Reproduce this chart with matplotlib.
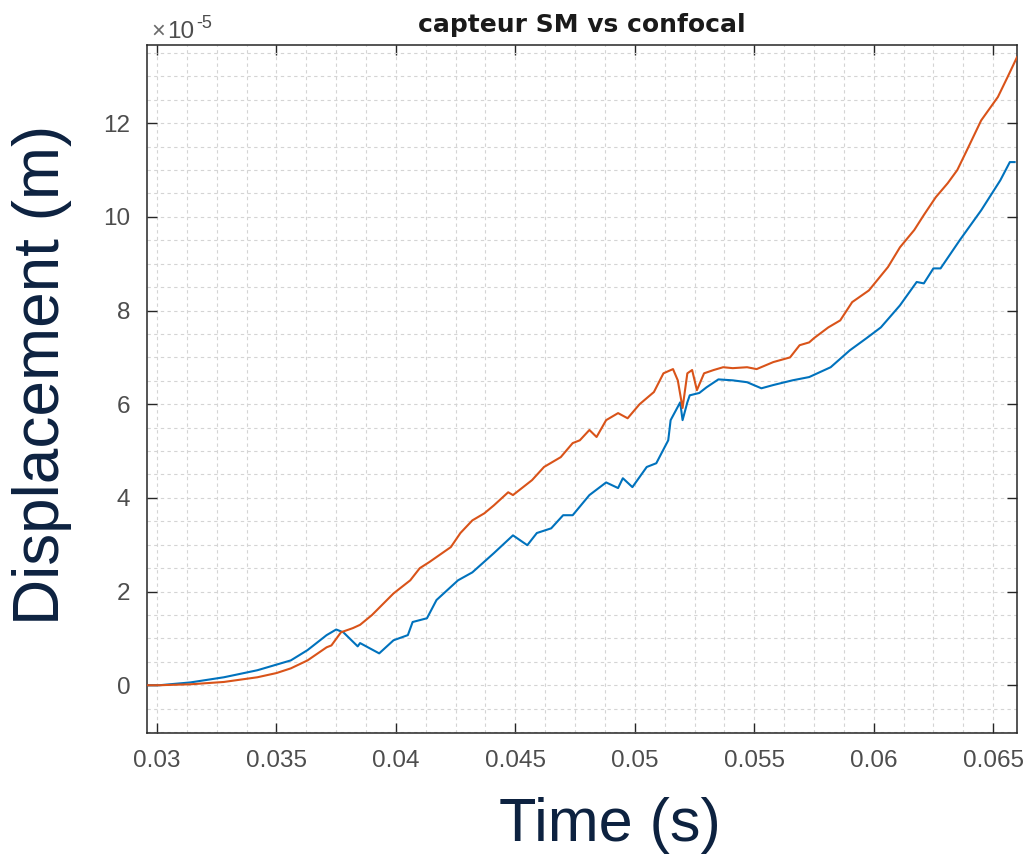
import matplotlib
matplotlib.use("Agg")
import matplotlib.pyplot as plt
from matplotlib.ticker import MultipleLocator

plt.rcParams['font.family'] = ['Liberation Sans', 'DejaVu Sans']

# Data (displacement in units of 1e-5 m)
t_conf = [0.02958, 0.0301, 0.0314, 0.0328, 0.0342, 0.0350, 0.0356, 0.0363, 0.0371, 0.0373,
          0.0377, 0.0382, 0.0385, 0.0390, 0.0399, 0.0406, 0.0410, 0.0414, 0.0423, 0.0427,
          0.0432, 0.0437, 0.0441, 0.0447, 0.0449, 0.0457, 0.0462, 0.0469, 0.0474, 0.0477,
          0.0481, 0.0484, 0.0488, 0.0493, 0.0497, 0.0502, 0.0508, 0.0512, 0.0516, 0.0518,
          0.0520, 0.0522, 0.0524, 0.0526, 0.0529, 0.0533, 0.0537, 0.0541, 0.0547, 0.0551,
          0.0558, 0.0565, 0.0569, 0.0573, 0.0575, 0.0581, 0.0586, 0.0591, 0.0598, 0.0606,
          0.0611, 0.0617, 0.0621, 0.0626, 0.0631, 0.0635, 0.0639, 0.0645, 0.0652, 0.0656,
          0.0660]
y_conf = [0.0, 0.0, 0.02, 0.07, 0.17, 0.26, 0.36, 0.53, 0.81, 0.85,
          1.13, 1.22, 1.29, 1.50, 1.96, 2.24, 2.50, 2.63, 2.95, 3.25,
          3.52, 3.67, 3.84, 4.12, 4.06, 4.38, 4.66, 4.87, 5.17, 5.23,
          5.45, 5.30, 5.66, 5.81, 5.70, 6.00, 6.26, 6.66, 6.75, 6.51,
          5.92, 6.66, 6.73, 6.30, 6.66, 6.73, 6.79, 6.77, 6.79, 6.75,
          6.90, 7.00, 7.26, 7.32, 7.41, 7.64, 7.79, 8.18, 8.43, 8.93,
          9.35, 9.72, 10.04, 10.42, 10.72, 11.00, 11.42, 12.06, 12.56, 12.98,
          13.41]

t_sm = [0.02958, 0.0301, 0.0314, 0.0328, 0.0342, 0.0356, 0.0363, 0.0371, 0.0375, 0.0378,
        0.0384, 0.0385, 0.0393, 0.0399, 0.0405, 0.0407, 0.0413, 0.0417, 0.0426, 0.0432,
        0.0441, 0.0449, 0.0455, 0.0459, 0.0465, 0.0470, 0.0474, 0.0481, 0.0488, 0.0493,
        0.0495, 0.0499, 0.0505, 0.0509, 0.0514, 0.0515, 0.0519, 0.0520, 0.0522, 0.0523,
        0.0527, 0.0530, 0.0535, 0.0541, 0.0547, 0.0553, 0.0558, 0.0566, 0.0573, 0.0582,
        0.0590, 0.0597, 0.0603, 0.0611, 0.0618, 0.0621, 0.0625, 0.0628, 0.0636, 0.0645,
        0.0653, 0.0657, 0.0659]
y_sm = [0.0, 0.0, 0.06, 0.17, 0.32, 0.53, 0.75, 1.07, 1.19, 1.13,
        0.83, 0.90, 0.68, 0.96, 1.07, 1.35, 1.43, 1.82, 2.24, 2.41,
        2.82, 3.20, 2.99, 3.25, 3.35, 3.63, 3.63, 4.06, 4.33, 4.21,
        4.42, 4.23, 4.66, 4.74, 5.23, 5.66, 6.04, 5.66, 6.04, 6.19,
        6.24, 6.36, 6.53, 6.51, 6.47, 6.34, 6.41, 6.51, 6.58, 6.79,
        7.15, 7.41, 7.64, 8.11, 8.61, 8.58, 8.90, 8.90, 9.50, 10.14,
        10.78, 11.17, 11.17]

x_ticks = [0.03, 0.035, 0.04, 0.045, 0.05, 0.055, 0.06, 0.065]
x_tick_labels = ['0.03', '0.035', '0.04', '0.045', '0.05', '0.055', '0.06', '0.065']
y_ticks = [0, 2, 4, 6, 8, 10, 12]

fig = plt.figure(figsize=(10.29, 8.65), dpi=100)
ax = fig.add_axes([147/1029, 132/865, 870/1029, 688/865])

ax.plot(t_sm, y_sm, color='#0072BD', lw=1.5, zorder=3)
ax.plot(t_conf, y_conf, color='#D95319', lw=1.5, zorder=3)

ax.set_xlim(0.02958, 0.0660)
ax.set_ylim(-1.02, 13.67)
ax.set_xticks(x_ticks)
ax.set_xticklabels(x_tick_labels)
ax.set_yticks(y_ticks)
ax.xaxis.set_minor_locator(MultipleLocator(0.00125))
ax.yaxis.set_minor_locator(MultipleLocator(0.5))

grid_kw = dict(color='#d4d4d4', linestyle=(0, (3, 3)), linewidth=0.8)
ax.grid(True, which='major', **grid_kw)
ax.grid(True, which='minor', **grid_kw)
ax.set_axisbelow(True)

ax.tick_params(which='major', direction='in', length=7, width=1.0, color='#262626',
               top=True, right=True, labelsize=17.5, labelcolor='#4d4d4d', pad=12)
ax.tick_params(which='minor', length=0)
for s in ax.spines.values():
    s.set_color('#262626')
    s.set_linewidth(1.1)

ax.set_title('capteur SM vs confocal', fontsize=18, fontweight='bold', color='#1a1a1a',
             pad=9, family='DejaVu Sans')

fig.text(151/1029, 1 - 38/865, '\u00d7', fontsize=17, color='#6a6a6a', ha='left', va='baseline')
fig.text(167/1029, 1 - 38/865, '10', fontsize=17.5, color='#4d4d4d', ha='left', va='baseline')
fig.text(196/1029, 1 - 28/865, '-5', fontsize=13, color='#4d4d4d', ha='left', va='baseline')

fig.text(42/1029, 1 - 375/865, 'Displacement (m)', fontsize=46, color='#0d2240',
         rotation=90, ha='center', va='center')
fig.text(610/1029, 1 - 825/865, 'Time (s)', fontsize=44, color='#0d2240',
         ha='center', va='center')

fig.savefig('out.png', dpi=100)
